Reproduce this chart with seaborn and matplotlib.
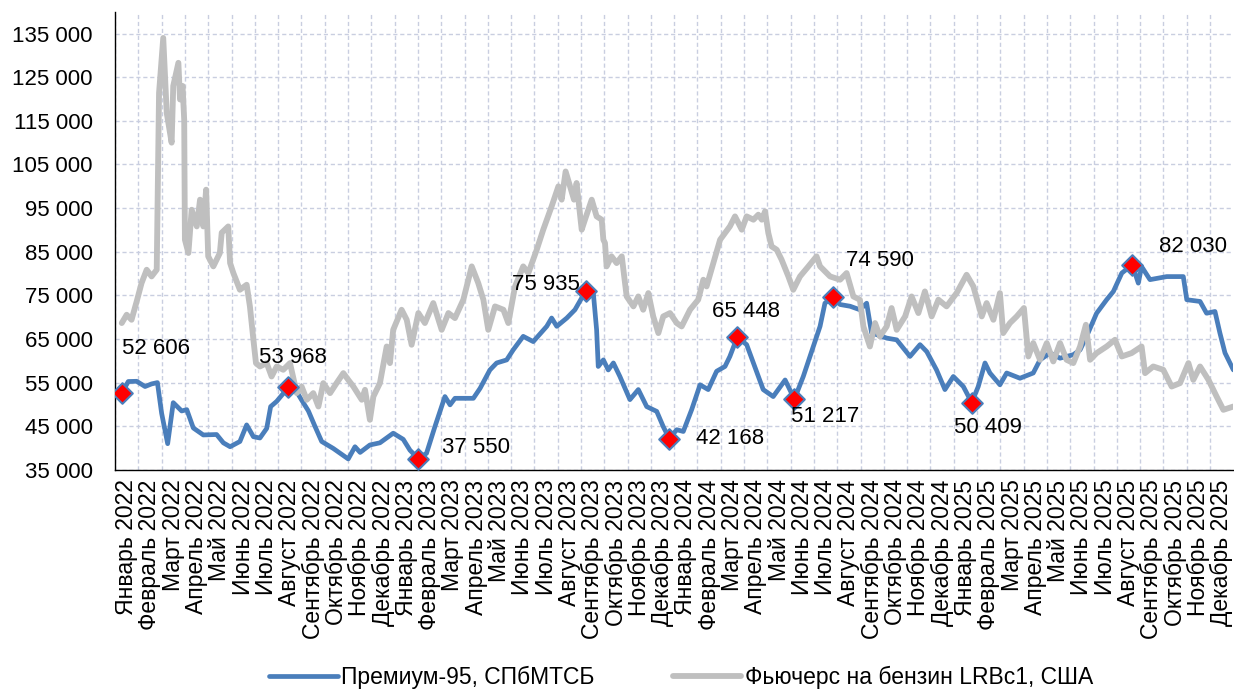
import matplotlib
matplotlib.use("Agg")
import matplotlib.pyplot as plt
import seaborn as sns
from matplotlib.ticker import FuncFormatter

# positions are in months from January 2022 (0 = start of Jan 2022)
premium_t = [0.29, 0.57, 0.93, 1.29, 1.57, 1.82, 2.00, 2.26, 2.50, 2.86, 3.08, 3.36, 3.79, 4.36,
             4.65, 4.94, 5.36, 5.65, 5.94, 6.22, 6.51, 6.68, 6.94, 7.22, 7.41, 7.73, 8.01, 8.30,
             8.58, 8.87, 9.37, 10.01, 10.30, 10.52, 10.94, 11.37, 11.94, 12.37, 12.66, 13.02,
             13.37, 13.73, 14.16, 14.38, 14.59, 15.38, 15.67, 16.09, 16.38, 16.81, 17.09, 17.52,
             17.95, 18.53, 18.74, 18.96, 19.39, 19.74, 20.03, 20.21, 20.53, 20.67, 20.74, 20.96,
             21.17, 21.39, 21.67, 22.10, 22.46, 22.82, 23.25, 23.53, 23.79, 24.11, 24.39, 24.75,
             25.11, 25.46, 25.82, 26.18, 26.39, 26.71, 27.11, 27.40, 27.82, 28.25, 28.76, 29.16,
             29.54, 29.97, 30.26, 30.47, 30.80, 31.12, 31.55, 31.97, 32.26, 32.47, 33.12, 33.55,
             34.12, 34.55, 34.84, 35.26, 35.62, 35.98, 36.41, 36.77, 37.05, 37.34, 37.55, 37.98,
             38.27, 38.84, 39.41, 39.70, 40.13, 40.56, 41.13, 41.42, 41.70, 42.13, 42.56, 42.85,
             43.21, 43.66, 43.92, 44.06, 44.42, 45.14, 45.85, 46.00, 46.57, 46.85, 47.21, 47.42,
             47.64, 48.00]
premium_v = [52606, 55250, 55300, 54100, 54700, 55000, 48000, 41000, 50400, 48500, 48800, 44600,
             43000, 43100, 41200, 40300, 41500, 45300, 42600, 42300, 44500, 49500, 50700, 52500,
             53968, 53500, 51000, 48500, 45000, 41500, 39900, 37500, 40300, 39000, 40700, 41200,
             43400, 42000, 39500, 37550, 38800, 44900, 51800, 49900, 51400, 51400, 53700, 57900,
             59500, 60200, 62500, 65600, 64400, 67900, 69800, 67900, 69800, 71700, 74400, 75935,
             75500, 67100, 58700, 60200, 57900, 59500, 56400, 51100, 53400, 49500, 48400, 44900,
             42168, 44200, 43800, 48800, 54500, 53400, 57600, 58700, 61000, 65448, 63700, 59500,
             53400, 51800, 55600, 51217, 56400, 63300, 67900, 73200, 74590, 72900, 72500, 71700,
             73200, 66400, 65200, 64800, 61000, 63700, 62100, 57900, 53400, 56400, 54100, 50409,
             54100, 59500, 57200, 54500, 57200, 56000, 57200, 60200, 61800, 60600, 61400, 62500,
             65600, 70900, 74000, 75900, 80100, 82030, 77800, 81600, 78600, 79300, 79300, 74000,
             73600, 70900, 71300, 66400, 61800, 57900]

futures_t = [0.29, 0.50, 0.71, 0.93, 1.14, 1.36, 1.57, 1.79, 1.89, 2.07, 2.22, 2.43, 2.50, 2.72,
             2.79, 2.90, 2.97, 3.00, 3.15, 3.29, 3.51, 3.65, 3.79, 3.91, 4.00, 4.22, 4.50, 4.58,
             4.86, 4.94, 5.08, 5.36, 5.65, 5.79, 5.94, 6.05, 6.22, 6.51, 6.72, 6.94, 7.22, 7.51,
             7.80, 8.01, 8.23, 8.51, 8.73, 8.94, 9.23, 9.51, 9.80, 10.01, 10.23, 10.59, 10.73,
             10.94, 11.09, 11.37, 11.66, 11.80, 11.94, 12.30, 12.52, 12.73, 13.02, 13.30, 13.66,
             14.02, 14.31, 14.59, 14.95, 15.31, 15.59, 15.81, 16.02, 16.31, 16.67, 16.88, 17.17,
             17.52, 17.74, 18.10, 18.38, 18.74, 19.03, 19.17, 19.34, 19.53, 19.70, 19.81, 20.03,
             20.17, 20.46, 20.67, 20.89, 20.96, 21.03, 21.10, 21.31, 21.53, 21.75, 21.96, 22.25,
             22.46, 22.67, 22.89, 23.10, 23.32, 23.53, 23.82, 24.11, 24.32, 24.68, 25.03, 25.25,
             25.39, 25.68, 25.97, 26.39, 26.61, 26.90, 27.11, 27.40, 27.61, 27.76, 27.90, 28.04,
             28.18, 28.40, 28.61, 28.90, 29.11, 29.40, 29.76, 30.11, 30.26, 30.69, 31.12, 31.40,
             31.69, 31.97, 32.12, 32.40, 32.62, 32.83, 33.12, 33.33, 33.55, 33.91, 34.19, 34.48,
             34.76, 35.05, 35.34, 35.69, 36.12, 36.55, 36.84, 37.20, 37.41, 37.70, 37.98, 38.12,
             38.41, 38.70, 39.01, 39.20, 39.41, 39.70, 39.99, 40.27, 40.56, 40.84, 41.13, 41.42,
             41.67, 41.85, 42.13, 42.56, 42.92, 43.21, 43.63, 44.06, 44.21, 44.56, 44.99, 45.35,
             45.71, 46.07, 46.28, 46.57, 46.93, 47.28, 47.57, 48.00]
futures_v = [68650, 70550, 69400, 73600, 77820, 80870, 79340, 80870, 121400, 134000, 116800,
             110000, 123000, 128300, 119900, 123000, 115200, 87750, 84700, 94630, 90800, 96930,
             90800, 99220, 83940, 81640, 84700, 89360, 90800, 82400, 80110, 76280, 77430, 72470,
             64820, 59470, 58700, 59470, 56400, 58700, 57940, 59470, 52590, 54100, 51060, 52590,
             49520, 54880, 52590, 54880, 57170, 55640, 54100, 51060, 53350, 46470, 51810, 54880,
             63280, 59470, 67100, 71700, 69400, 63670, 70940, 68650, 73230, 67100, 70940, 69790,
             74000, 81640, 77820, 74000, 67100, 72470, 71700, 68650, 77050, 81640, 80110, 85460,
             90050, 95400, 99990, 96930, 103400, 99990, 96930, 100750, 90050, 92340, 96930, 93100,
             92340, 87750, 86990, 81640, 83940, 82400, 83940, 74750, 72470, 74750, 71700, 75520,
             70170, 66350, 70170, 70940, 68650, 67870, 71700, 74000, 78580, 77050, 82400, 87750,
             90800, 93100, 90050, 93100, 92340, 93490, 92340, 94250, 89280, 86220, 85460, 83170,
             79340, 76280, 79340, 81640, 83940, 81640, 79340, 78580, 80110, 74750, 74000, 67870,
             63280, 68650, 65580, 67870, 72090, 67100, 70170, 74750, 70940, 75900, 70170, 74000,
             72470, 75520, 79720, 77050, 70170, 73230, 69400, 75520, 66350, 68650, 70170, 72090,
             60990, 64060, 60230, 64060, 59850, 64060, 60230, 59470, 63280, 68260, 60230, 61760,
             63280, 64820, 60990, 61760, 63280, 57170, 58700, 57940, 54100, 54880, 59470, 55640,
             58700, 55640, 51810, 48760, 49520]

peak_t = [0.29, 7.41, 13.02, 20.21, 23.79, 26.71, 29.16, 30.80, 36.77, 43.66]
peak_v = [52606, 53968, 37550, 75935, 42168, 65448, 51217, 74590, 50409, 82030]

months = ["Январь", "Февраль", "Март", "Апрель", "Май", "Июнь", "Июль", "Август",
          "Сентябрь", "Октябрь", "Ноябрь", "Декабрь"]
years = [2022, 2023, 2024, 2025]
tick_labels = [f"{m} {y}" for y in years for m in months]

BLUE = "#4A7EBB"
GREY = "#BFBFBF"

sns.set_style("white")
plt.rcParams["font.family"] = ["Liberation Sans", "DejaVu Sans"]
plt.rcParams["text.color"] = "black"
plt.rcParams["xtick.color"] = "black"
plt.rcParams["ytick.color"] = "black"

fig, ax = plt.subplots(figsize=(12.34, 6.93), dpi=100)
fig.subplots_adjust(left=0.0932, right=0.9995, top=0.983, bottom=0.322)

sns.lineplot(x=premium_t, y=premium_v, ax=ax, color=BLUE, linewidth=3.4,
             label="Премиум-95, СПбМТСБ", zorder=3)
sns.lineplot(x=futures_t, y=futures_v, ax=ax, color=GREY, linewidth=4.2,
             label="Фьючерс на бензин LRBc1, США", zorder=4)
sns.scatterplot(x=peak_t, y=peak_v, ax=ax, marker="D", s=110, color="#FF0000",
                edgecolor=BLUE, linewidth=1.5, zorder=6, legend=False)

# label offsets in pixels (dx, dy, ha)
offsets = [(0, 45, "left"), (5, 30, "center"), (24, 11, "left"), (-6, 7, "right"),
           (27, 0, "left"), (9, 26, "center"), (-3, -17, "left"), (13, 37, "left"),
           (16, -25, "center"), (27, 18, "left")]
for t, v, (dx, dy, ha) in zip(peak_t, peak_v, offsets):
    ax.annotate(f"{v:,}".replace(",", " "), xy=(t, v), xytext=(dx, dy),
                textcoords="offset pixels", ha=ha, va="center", fontsize=16,
                color="black", zorder=7)

ax.set_xlim(0, 48)
ax.set_ylim(35000, 140000)
ax.set_yticks(range(35000, 135001, 10000))
ax.yaxis.set_major_formatter(FuncFormatter(lambda v, p: f"{int(v):,}".replace(",", " ")))

ax.set_xticks(range(0, 48))
ax.set_xticklabels([])
ax.set_xticks([i + 0.5 for i in range(48)], minor=True)
ax.set_xticklabels(tick_labels, minor=True, rotation=90, fontsize=16.5, va="top")

ax.tick_params(axis="x", which="major", length=7, width=1, color="black", direction="out")
ax.tick_params(axis="x", which="minor", length=0, pad=7)
ax.tick_params(axis="y", length=7, width=1, color="black", direction="out",
               labelsize=16, pad=9)

ax.grid(axis="x", which="major", color="#C9CEE0", linestyle=(0, (3, 2)), linewidth=1)
ax.grid(axis="y", color="#C9CEE0", linestyle=(0, (3, 2)), linewidth=1)

for side in ["top", "right"]:
    ax.spines[side].set_visible(False)
for side in ["left", "bottom"]:
    ax.spines[side].set_color("black")
    ax.spines[side].set_linewidth(1)

handles, labels = ax.get_legend_handles_labels()
ax.get_legend().remove()
fig.legend(handles, labels, loc="center", bbox_to_anchor=(681 / 1234, 1 - 677 / 693),
           ncol=2, frameon=False, fontsize=16.5, handlelength=3.0, handletextpad=0.15,
           columnspacing=3.4, labelcolor="black")

plt.savefig("out.png", dpi=100)
